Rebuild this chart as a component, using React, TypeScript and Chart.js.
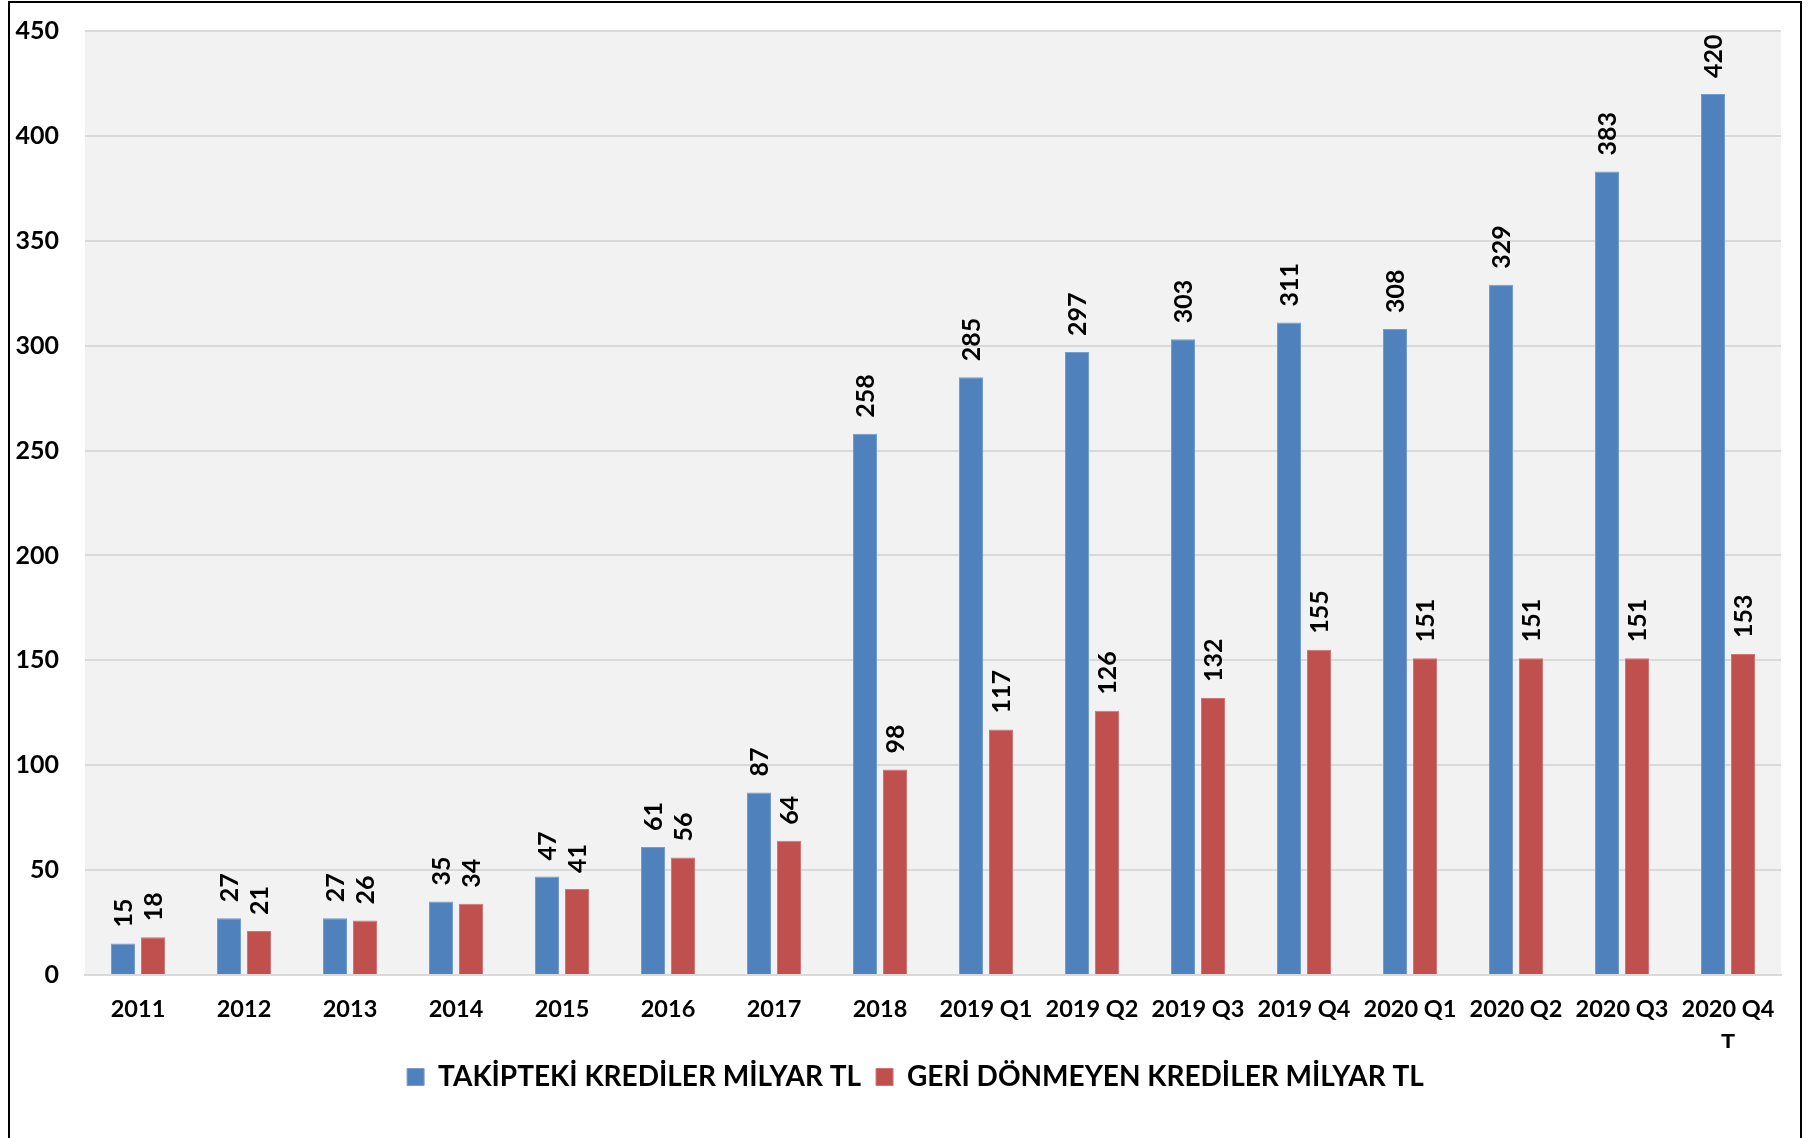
import React, { useEffect, useRef } from "react";
import { Chart, registerables } from "chart.js";

Chart.register(...registerables);

const categories: (string | string[])[] = [
  "2011", "2012", "2013", "2014", "2015", "2016", "2017", "2018",
  "2019 Q1", "2019 Q2", "2019 Q3", "2019 Q4",
  "2020 Q1", "2020 Q2", "2020 Q3", ["2020 Q4", "T"],
];
const takipteki = [15, 27, 27, 35, 47, 61, 87, 258, 285, 297, 303, 311, 308, 329, 383, 420];
const geriDonmeyen = [18, 21, 26, 34, 41, 56, 64, 98, 117, 126, 132, 155, 151, 151, 151, 153];
const seriesNames = ["TAKİPTEKİ KREDİLER MİLYAR TL", "GERİ DÖNMEYEN KREDİLER MİLYAR TL"];
const yTicks = [0, 50, 100, 150, 200, 250, 300, 350, 400, 450];

const FONT = "Lato, 'Open Sans', sans-serif";

const plotBg = {
  id: "plotBg",
  beforeDraw(chart: any) {
    const { ctx, chartArea } = chart;
    ctx.save();
    ctx.fillStyle = "#f2f2f2";
    ctx.fillRect(chartArea.left, chartArea.top, chartArea.right - chartArea.left, chartArea.bottom - chartArea.top);
    ctx.restore();
  },
};

const legendShift = {
  id: "legendShift",
  afterLayout(chart: any) {
    if (chart.legend) {
      chart.legend.left += 25;
      chart.legend.right += 25;
    }
  },
};

const valueLabels = {
  id: "valueLabels",
  afterDatasetsDraw(chart: any) {
    const { ctx } = chart;
    ctx.save();
    ctx.font = `bold 25px ${FONT}`;
    ctx.fillStyle = "#000";
    ctx.textAlign = "left";
    ctx.textBaseline = "middle";
    chart.data.datasets.forEach((ds: any, i: number) => {
      const meta = chart.getDatasetMeta(i);
      meta.data.forEach((el: any, j: number) => {
        ctx.save();
        ctx.translate(el.x + 1, el.y - 16);
        ctx.rotate(-Math.PI / 2);
        ctx.fillText(String(ds.data[j]), 0, 0);
        ctx.restore();
      });
    });
    ctx.restore();
  },
};

export default function App() {
  const ref = useRef<HTMLCanvasElement>(null);
  useEffect(() => {
    const chart = new Chart(ref.current!, {
      type: "bar",
      data: {
        labels: categories,
        datasets: [
          {
            label: seriesNames[0],
            data: takipteki,
            backgroundColor: "#4f81bd",
            borderColor: "#739cd0",
            borderWidth: 1,
            categoryPercentage: 0.566,
            barPercentage: 0.8,
          },
          {
            label: seriesNames[1],
            data: geriDonmeyen,
            backgroundColor: "#c0504d",
            borderColor: "#d07573",
            borderWidth: 1,
            categoryPercentage: 0.566,
            barPercentage: 0.8,
          },
        ],
      },
      options: {
        animation: false,
        responsive: false,
        maintainAspectRatio: false,
        layout: { padding: { top: 31, left: 0, right: 31, bottom: 37 } },
        plugins: {
          tooltip: { enabled: false },
          legend: {
            position: "bottom",
            labels: {
              color: "#000",
              font: { family: FONT, size: 28, weight: "bold" },
              boxWidth: 17,
              boxHeight: 17,
              padding: 15,
            },
          },
        },
        scales: {
          x: {
            grid: { display: false, drawTicks: false },
            border: { display: true, color: "#d9d9d9", width: 2 },
            ticks: {
              color: "#000",
              font: { family: FONT, size: 23.5, weight: "bold", lineHeight: 1.43 },
              padding: 18,
              maxRotation: 0,
              autoSkip: false,
            },
            afterFit(scale: any) {
              scale.height = 73;
            },
          },
          y: {
            min: 0,
            max: 450,
            afterBuildTicks(scale: any) {
              scale.ticks = yTicks.map((v) => ({ value: v }));
            },
            grid: { color: "#d9d9d9", lineWidth: 2, drawTicks: false },
            border: { display: false },
            ticks: {
              color: "#000",
              font: { family: FONT, size: 25, weight: "bold" },
              padding: 26,
            },
            afterFit(scale: any) {
              scale.width = 85;
              scale.paddingTop = 0;
              scale.paddingBottom = 0;
            },
          },
        },
      },
      plugins: [plotBg, legendShift, valueLabels],
    });
    return () => chart.destroy();
  }, []);

  return (
    <div style={{ position: "fixed", left: 0, top: 0, width: 1812, height: 1138, overflow: "hidden", background: "#fff" }}>
      <canvas ref={ref} width={1812} height={1138} style={{ position: "absolute", left: 0, top: 0, width: 1812, height: 1138 }} />
      <div
        style={{
          position: "absolute",
          left: 8,
          top: 1,
          width: 1794,
          height: 1200,
          border: "2px solid #000",
          boxSizing: "border-box",
          pointerEvents: "none",
        }}
      />
    </div>
  );
}
